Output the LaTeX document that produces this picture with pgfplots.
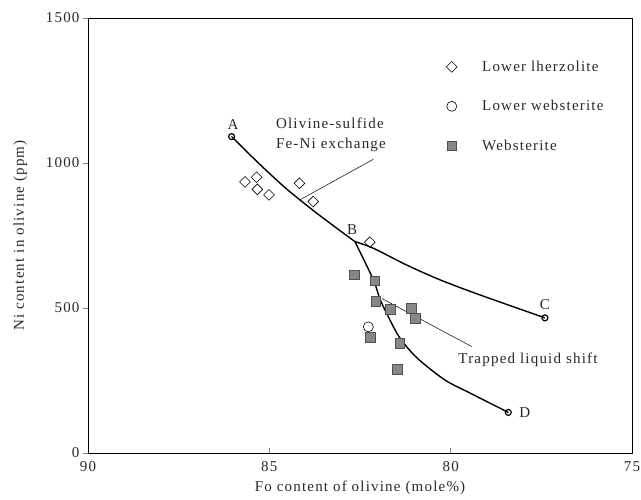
\documentclass[border=0pt]{standalone}
\usepackage{fontspec}
\setmainfont{Liberation Serif}[LetterSpace=8]
\usepackage{pgfplots}
\pgfplotsset{compat=1.18}

\definecolor{sqfill}{RGB}{135,135,135}
\definecolor{sqdraw}{RGB}{80,80,80}
\definecolor{txt}{RGB}{40,40,40}
\newcommand{\fs}{\fontsize{15}{20}\selectfont}

\begin{document}
\begin{tikzpicture}
\begin{axis}[
    scale only axis,
    width=544pt, height=435pt,
    xmin=75, xmax=90, ymin=0, ymax=1500,
    x dir=reverse,
    xtick={90,85,80,75}, ytick={0,500,1000,1500},
    tick pos=left,
    tick align=outside,
    major tick length=5pt,
    xtick style={yshift=5pt, line width=0.6pt},
    ytick style={line width=0.6pt},
    axis line style={line width=0.9pt},
    /pgf/number format/assume math mode=true,
    /pgf/number format/1000 sep={},
    ticklabel style={font=\fs, text=txt},
    xlabel={Fo content of olivine (mole\%)},
    ylabel={Ni content in olivine (ppm)},
    label style={font=\fs, text=txt},
    xlabel style={yshift=-2pt},
    ylabel style={yshift=12pt},
    clip=false,
    legend style={at={(0.653,0.911)}, anchor=north west, draw=none, fill=none,
        font=\fs, text=txt, row sep=23.5pt,
        /tikz/every odd column/.append style={column sep=23pt}},
    legend cell align=left,
]
% Lower lherzolite
\addplot[only marks, mark=square, mark size=3.8pt, line width=0.6pt,
    every mark/.append style={rotate=45}] coordinates {
    (85.67,935) (85.35,951) (85.33,909) (85.01,890) (84.17,930) (83.79,867) (82.23,727)
};
\addlegendentry{Lower lherzolite}
% Lower websterite
\addplot[only marks, mark=o, mark size=5pt, line width=0.6pt] coordinates {
    (82.27,435)
};
\addlegendentry{Lower websterite}
% Websterite
\addplot[only marks, mark=square*, mark size=4.8pt, line width=0.6pt,
    mark options={fill=sqfill, draw=sqdraw}] coordinates {
    (82.66,614) (82.09,594) (82.06,524) (81.67,495) (81.09,499)
    (80.98,464) (82.21,399) (81.40,378) (81.47,289)
};
\addlegendentry{Websterite}
% curve A-B
\addplot[line width=1.4pt, smooth, forget plot] coordinates {
    (86.04,1091) (85.30,1000) (84.52,910) (83.60,818) (82.64,729)
};
% curve B-C
\addplot[line width=1.4pt, smooth, forget plot] coordinates {
    (82.64,729) (82.13,706) (81.21,648) (80.29,597) (79.19,545) (77.40,466)
};
% curve B-D
\addplot[line width=1.4pt, smooth, forget plot] coordinates {
    (82.64,729) (82.13,597) (81.95,531) (81.70,465) (81.40,397)
    (80.93,328) (80.16,252) (79.47,207) (78.41,140)
};
\addplot[only marks, mark=o, mark size=3pt, line width=1.2pt,
    mark options={fill=white}, forget plot] coordinates {
    (86.04,1091) (77.40,466) (78.41,140)
};
% leader lines
\draw[line width=0.5pt] (axis cs:82.13,1013) -- (axis cs:84.17,872);
\draw[line width=0.5pt] (axis cs:81.90,533) -- (axis cs:79.42,367);
% labels
\node[font=\fs, text=txt] at (axis cs:86.0,1133) {A};
\node[font=\fs, text=txt] at (axis cs:82.72,772) {B};
\node[font=\fs, text=txt] at (axis cs:77.40,510) {C};
\node[font=\fs, text=txt, anchor=west] at (axis cs:78.2,138) {D};
\node[font=\fs, text=txt, anchor=west, align=left, inner sep=0pt]
    at (axis cs:84.82,1097) {Olivine-sulfide\\Fe-Ni exchange};
\node[font=\fs, text=txt, anchor=west, inner sep=0pt]
    at (axis cs:79.79,321) {Trapped liquid shift};
\end{axis}
\pgfresetboundingbox
\path[use as bounding box] (current axis.south west) ++(-88pt,-46pt) rectangle ++(641pt,499pt);
\end{tikzpicture}
\end{document}
